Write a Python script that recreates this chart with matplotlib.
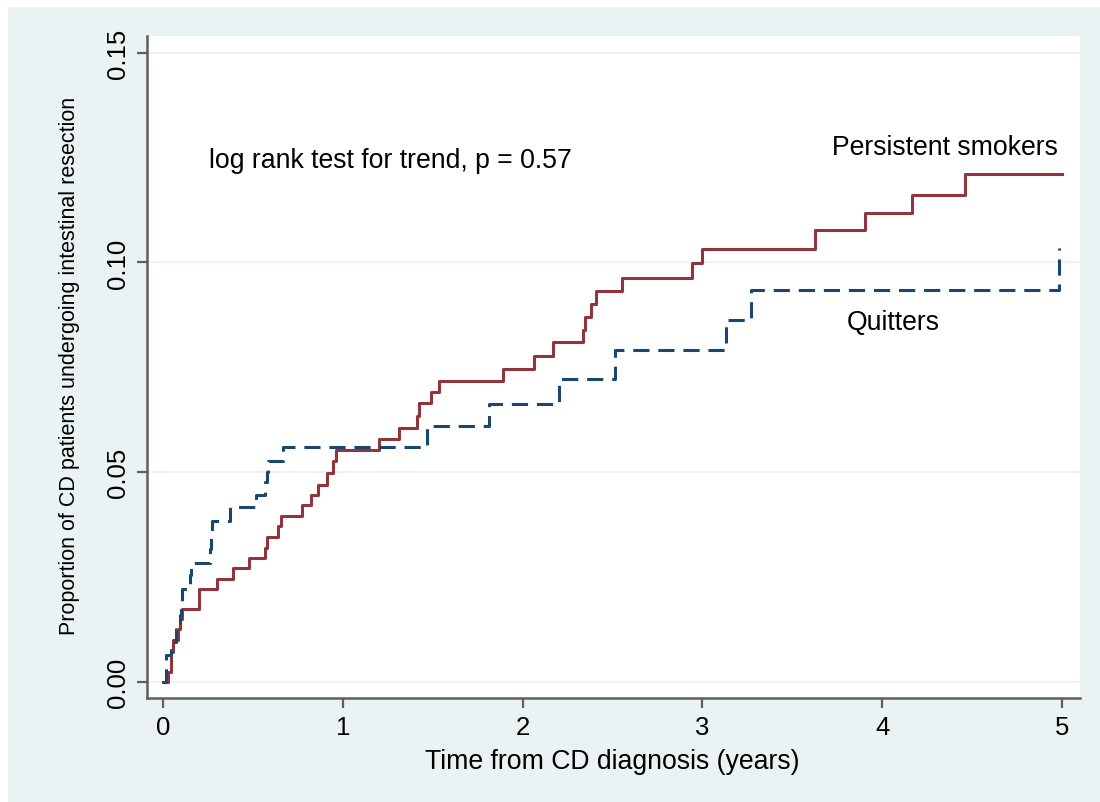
import matplotlib
matplotlib.use('Agg')
import matplotlib.pyplot as plt
import matplotlib.patches as mpatches

plt.rcParams['font.family'] = ['Liberation Sans', 'DejaVu Sans']

# Kaplan-Meier style cumulative proportion
smk_t = [0.0, 0.028, 0.041, 0.052, 0.083, 0.093, 0.102, 0.200, 0.297, 0.386,
         0.477, 0.566, 0.575, 0.637, 0.653, 0.770, 0.822, 0.863, 0.909, 0.946,
         0.961, 1.202, 1.313, 1.410, 1.425, 1.488, 1.534, 1.892, 2.065, 2.167,
         2.336, 2.347, 2.378, 2.406, 2.551, 2.942, 2.996, 3.627, 3.905, 4.168,
         4.461, 5.0]
smk_p = [0.0, 0.0022, 0.0070, 0.0098, 0.0125, 0.0150, 0.0172, 0.0220, 0.0245, 0.0270,
         0.0294, 0.0319, 0.0346, 0.0371, 0.0396, 0.0421, 0.0446, 0.0470, 0.0498, 0.0527,
         0.0553, 0.0579, 0.0606, 0.0634, 0.0664, 0.0691, 0.0717, 0.0745, 0.0777, 0.0809,
         0.0839, 0.0871, 0.0902, 0.0932, 0.0964, 0.0999, 0.1033, 0.1077, 0.1118, 0.1162,
         0.1211, 0.1211]

qt_t = [0.0, 0.015, 0.043, 0.070, 0.093, 0.100, 0.106, 0.150, 0.155, 0.260,
        0.265, 0.270, 0.371, 0.516, 0.566, 0.576, 0.584, 0.668, 1.466, 1.810,
        2.202, 2.514, 3.130, 3.269, 4.984]
qt_p = [0.0, 0.0063, 0.0095, 0.0125, 0.0160, 0.0190, 0.0222, 0.0255, 0.0283, 0.0316,
        0.0350, 0.0384, 0.0416, 0.0445, 0.0475, 0.0500, 0.0527, 0.0559, 0.0610, 0.0663,
        0.0721, 0.0790, 0.0863, 0.0934, 0.1035]

xticks = [0, 1, 2, 3, 4, 5]
yticks = [0.0, 0.05, 0.10, 0.15]
ytick_labels = ['0.00', '0.05', '0.10', '0.15']

bg = '#EAF2F3'
red = '#90353B'
blue = '#1A476F'
axcol = '#5f5f5f'

fig = plt.figure(figsize=(11, 8.03), dpi=100, facecolor='white')
# stata-ish graph region (tiny white strip at top/left in the original)
fig.patches.append(mpatches.Rectangle((8/1100, 0), 1, 1 - 8/803, transform=fig.transFigure,
                                      facecolor=bg, edgecolor='none', zorder=-10))

ax = fig.add_axes([0.1334, 0.1291, 0.9818 - 0.1334, 0.9543 - 0.1291])
ax.set_facecolor('white')

ax.step(smk_t, smk_p, where='post', color=red, lw=2.2, zorder=3)
ax.step(qt_t, qt_p, where='post', color=blue, lw=2.2, linestyle=(0, (5.3, 2.9)), zorder=3)

ax.set_xlim(-0.0924, 5.101)
ax.set_ylim(-0.0040, 0.1541)
ax.set_xticks(xticks)
ax.set_yticks(yticks)
ax.set_yticklabels(ytick_labels, rotation=90, va='center')
ax.grid(axis='y', color=bg, lw=1.6, zorder=0)
ax.grid(axis='x', visible=False)

for s in ['top', 'right']:
    ax.spines[s].set_visible(False)
for s in ['left', 'bottom']:
    ax.spines[s].set_color(axcol)
    ax.spines[s].set_linewidth(1.8)
ax.tick_params(axis='both', direction='out', length=7, width=1.6, color=axcol,
               labelsize=18.5, pad=5)

ax.text(0.255, 0.1245, 'log rank test for trend, p = 0.57', fontsize=19.2, va='center', ha='left')
ax.text(4.98, 0.1276, 'Persistent smokers', fontsize=19.2, va='center', ha='right')
ax.text(4.06, 0.0857, 'Quitters', fontsize=19.2, va='center', ha='center')

fig.text(612/1100, 1 - 762/803, 'Time from CD diagnosis (years)', fontsize=19.2,
         ha='center', va='center')
fig.text(70/1100, 1 - 366/803, 'Proportion of CD patients undergoing intestinal resection',
         fontsize=15.5, rotation=90, ha='center', va='center')

fig.savefig('out.png', dpi=100, facecolor=fig.get_facecolor())
